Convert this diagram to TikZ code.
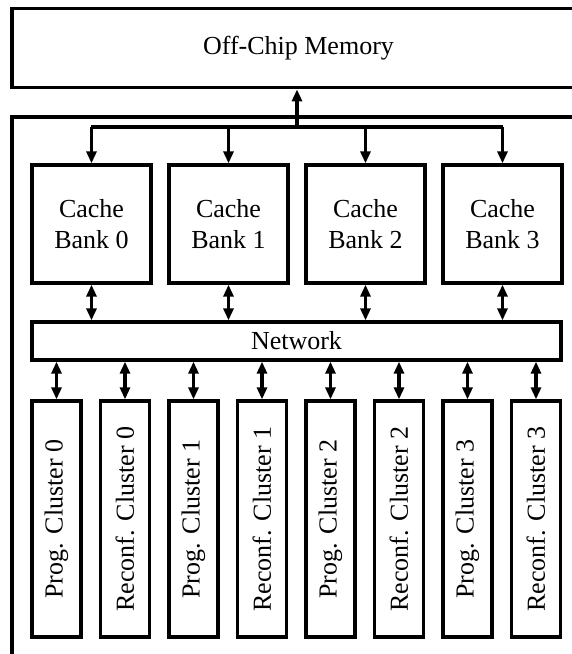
\documentclass[tikz,border=0pt]{standalone}
\usepackage{fontspec}
\setmainfont{Liberation Serif}
\usetikzlibrary{arrows.meta}

\begin{document}
\begin{tikzpicture}[x=0.02cm,y=-0.02cm,
	blk/.style={draw,line width=1.9pt,inner sep=0pt,align=center,font=\fontsize{14.8}{17.4}\selectfont},
	bus/.style={line width=1.9pt},
	link/.style={bus,{Triangle[length=0.24cm,width=0.2cm]}-{Triangle[length=0.24cm,width=0.2cm]}}]
	\clip (0,0) rectangle (572,654);
	\node[blk,minimum width=11.46cm,minimum height=1.59cm] (Mem) at (298.5,48) {Off-Chip Memory};
	\node[blk,minimum width=11.46cm,minimum height=11.02cm] (Chip) at (298.5,392.5) {};
	\foreach \k in {0,...,3}
		\node[blk,minimum width=2.38cm,minimum height=2.36cm] (C\k) at (91.5+137*\k,224) {Cache\\Bank \k};
	\node[blk,minimum width=10.58cm,minimum height=0.76cm] (Net) at (296.5,341) {Network};
	\foreach \k in {0,...,3} {
		\node[blk,rotate=90,minimum width=4.72cm,minimum height=0.98cm] (P\k) at (56.5+137*\k,519) {Prog. Cluster \k};
		\node[blk,rotate=90,minimum width=4.72cm,minimum height=0.98cm] (R\k) at (125+137*\k,519) {Reconf. Cluster \k};
	}
	\coordinate (Tap) at (297,127);
	\draw[bus,-{Triangle[length=0.24cm,width=0.2cm]}] (Tap) -- (Tap |- Mem.south);
	\draw[bus] (C0.north |- Tap) -- (C3.north |- Tap);
	\foreach \k in {0,...,3} {
		\draw[bus,-{Triangle[length=0.24cm,width=0.2cm]}] (C\k.north |- Tap) -- (C\k.north);
		\draw[link] (C\k.south) -- (C\k.south |- Net.north);
		\draw[link] (Net.south -| P\k) -- (P\k.east);
		\draw[link] (Net.south -| R\k) -- (R\k.east);
	}
\end{tikzpicture}
\end{document}
